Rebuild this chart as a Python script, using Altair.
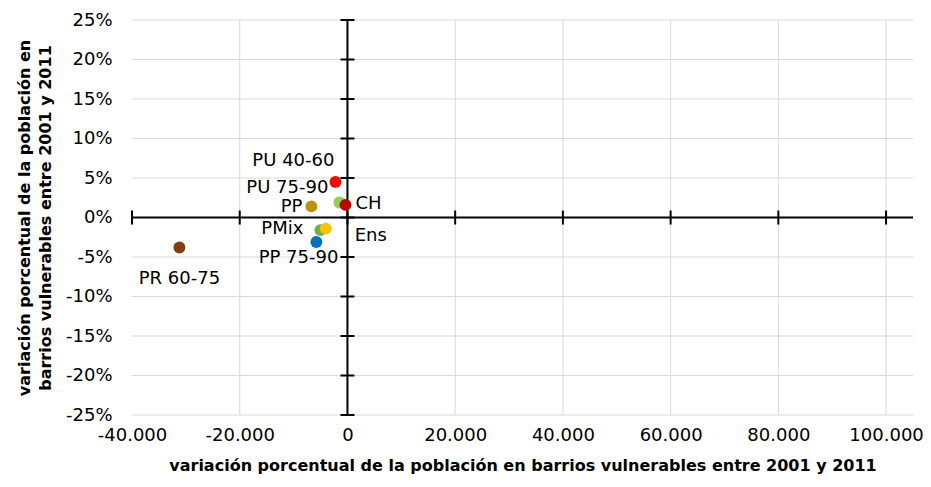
import altair as alt
import pandas as pd

labels = ["PU 40-60", "PU 75-90", "PP", "CH", "PMix", "Ens", "PP 75-90", "PR 60-75"]
x_vals = [-2230, -1490, -6700, -370, -5020, -4030, -5770, -31200]
y_vals = [4.5, 1.9, 1.4, 1.6, -1.6, -1.4, -3.1, -3.8]
colors = ["#FF0000", "#92D050", "#BF9000", "#C00000", "#70AD47", "#FFC000", "#0070C0", "#843C0C"]

x_ticks = [-40000, -20000, 0, 20000, 40000, 60000, 80000, 100000]
x_grid = [-20000, 20000, 40000, 60000, 80000, 100000]
y_ticks = [-25, -20, -15, -10, -5, 0, 5, 10, 15, 20, 25]

x_title = "variación porcentual de la población en barrios vulnerables entre 2001 y 2011"
y_title = ["variación porcentual de la población en", "barrios vulnerables entre 2001 y 2011"]

# label style: (align, dx, dy)
label_style = {
    "PU 40-60": ("right", -1, -21),
    "PU 75-90": ("right", -11, -14),
    "PP": ("right", -9, 1),
    "CH": ("left", 10, -1),
    "PMix": ("right", -17, -1),
    "Ens": ("left", 29, 7),
    "PP 75-90": ("right", 22, 16),
    "PR 60-75": ("center", 0, 31),
}

FONT = "DejaVu Sans"

df = pd.DataFrame({"label": labels, "x": x_vals, "y": y_vals})
xg = pd.DataFrame({"v": x_grid})
yg = pd.DataFrame({"v": y_ticks})
xt = pd.DataFrame({"v": x_ticks})

xs = alt.Scale(domain=[-40000, 105000], nice=False, zero=False)
ys = alt.Scale(domain=[-25, 25], nice=False, zero=False)

x_axis = alt.Axis(
    values=x_ticks,
    labelExpr="replace(replace(format(datum.value, ','), ',', '.'), '\u2212', '-')",
    grid=False, ticks=False, domain=False, labelFlush=False, labelOverlap=False,
    labelFont=FONT, labelFontSize=18, labelColor="black", labelPadding=11,
    title=x_title, titleFont=FONT, titleFontSize=16, titleFontWeight="bold",
    titleColor="black", titlePadding=13,
)
y_axis = alt.Axis(
    values=y_ticks,
    labelExpr="datum.value + '%'",
    grid=False, ticks=False, domain=False, labelFlush=False, labelOverlap=False,
    labelFont=FONT, labelFontSize=18, labelColor="black", labelPadding=20,
    title=y_title, titleFont=FONT, titleFontSize=16, titleFontWeight="bold",
    titleColor="black", titlePadding=12, titleLineHeight=21,
)


def X(field):
    return alt.X(field, scale=xs, axis=x_axis)


def Y(field):
    return alt.Y(field, scale=ys, axis=y_axis)


grid_x = alt.Chart(xg).mark_rule(color="#d9d9d9", strokeWidth=1).encode(x=X("v:Q"))
grid_y = alt.Chart(yg).mark_rule(color="#d9d9d9", strokeWidth=1).encode(y=Y("v:Q"))

zero_df = pd.DataFrame({"v": [0]})
zero_x = alt.Chart(zero_df).mark_rule(color="black", strokeWidth=2).encode(x=X("v:Q"))
zero_y = alt.Chart(zero_df).mark_rule(color="black", strokeWidth=2).encode(y=Y("v:Q"))

ticks_y = alt.Chart(yg).transform_calculate(z="0").mark_tick(
    orient="horizontal", size=14, thickness=2, color="black", opacity=1
).encode(x=X("z:Q"), y=Y("v:Q"))
ticks_x = alt.Chart(xt).transform_calculate(z="0").mark_tick(
    orient="vertical", size=14, thickness=2, color="black", opacity=1
).encode(x=X("v:Q"), y=Y("z:Q"))

points = alt.Chart(df).mark_point(filled=True, size=140, opacity=1).encode(
    x=X("x:Q"),
    y=Y("y:Q"),
    color=alt.Color("label:N", scale=alt.Scale(domain=labels, range=colors), legend=None),
)

texts = []
for lab in labels:
    al, dx, dy = label_style[lab]
    texts.append(
        alt.Chart(df).transform_filter(alt.datum.label == lab).mark_text(
            align=al, baseline="middle", dx=dx, dy=dy, fontSize=18, font=FONT, color="black"
        ).encode(x=X("x:Q"), y=Y("y:Q"), text="label:N")
    )

chart = alt.layer(
    grid_x, grid_y, zero_x, zero_y, ticks_x, ticks_y, points, *texts
).properties(
    width=781, height=395,
    autosize=alt.AutoSizeParams(type="none"),
    padding={"left": 124, "top": 12, "right": 10, "bottom": 64},
).configure_view(stroke=None)

chart.save("out.html", embed_options={"renderer": "svg", "actions": False})
